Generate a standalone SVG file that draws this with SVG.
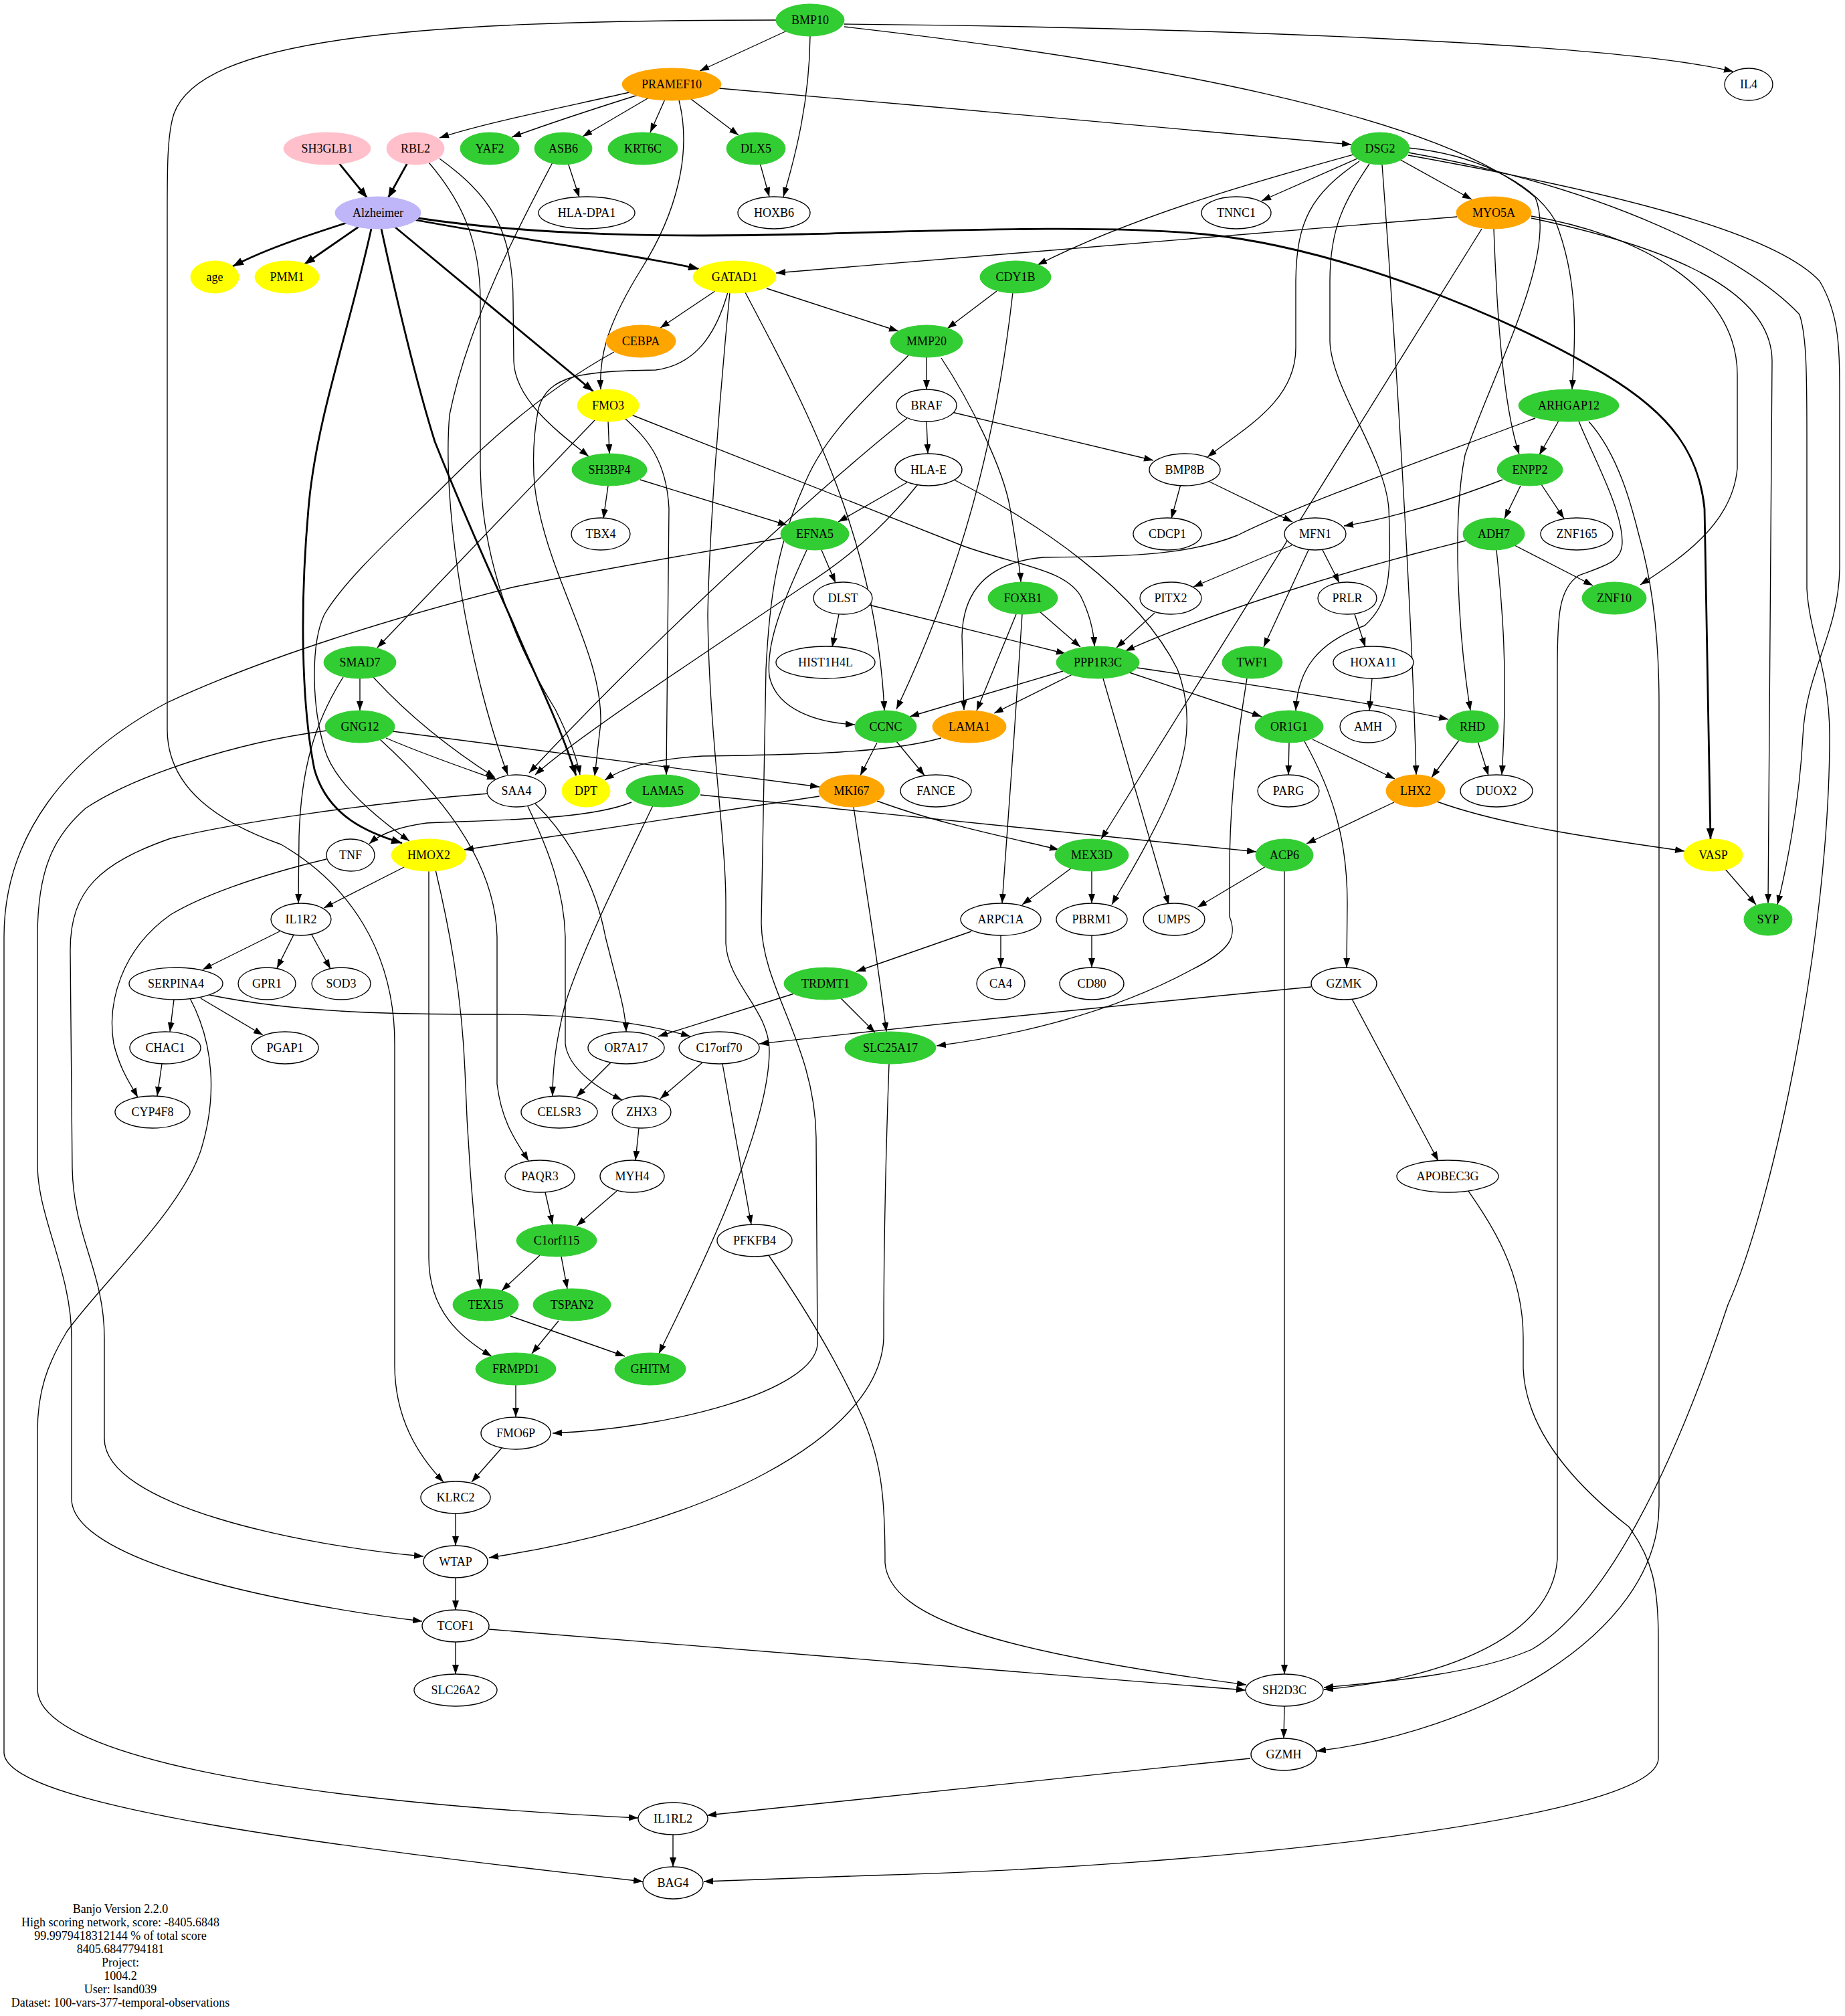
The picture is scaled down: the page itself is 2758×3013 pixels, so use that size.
<svg xmlns="http://www.w3.org/2000/svg" width="2758" height="3013" viewBox="0 0 2758 3013">
<style>
.e{fill:none;stroke:#000;stroke-width:1.35;marker-end:url(#a)}
.b{fill:none;stroke:#000;stroke-width:2.8;marker-end:url(#ab)}
.w{fill:#fff;stroke:#000;stroke-width:1.35}
.g{fill:#32cd32;stroke:#32cd32}
.o{fill:#ffa500;stroke:#ffa500}
.y{fill:#ffff00;stroke:#ffff00}
.p{fill:#ffc0cb;stroke:#ffc0cb}
.v{fill:#beb6f8;stroke:#beb6f8}
text{font-family:"Liberation Serif","Times New Roman",serif;font-size:18px;text-anchor:middle;fill:#000}
</style>
<defs>
<marker id="a" markerUnits="userSpaceOnUse" viewBox="0 0 14 10" refX="14" refY="5" markerWidth="14" markerHeight="10" orient="auto"><path d="M0,0L14,5L0,10z" fill="#000"/></marker>
<marker id="ab" markerUnits="userSpaceOnUse" viewBox="0 0 16 12" refX="16" refY="6" markerWidth="16" markerHeight="12" orient="auto"><path d="M0,0L16,6L0,12z" fill="#000"/></marker>
</defs>
<rect width="2758" height="3013" fill="#fff"/>
<g id="edges">
<path class="e" d="M1211,30 L1046,106"/>
<path class="e" d="M1262,36 C1700,40 2400,60 2591,107"/>
<path class="e" d="M1211,54 C1210,150 1190,230 1171,294"/>
<path class="e" d="M1262,40 C1700,90 2150,170 2295,295 C2330,380 2230,560 2190,680 C2170,780 2180,950 2198,1062"/>
<path class="e" d="M1160,30 C600,30 300,60 260,170 C250,200 250,250 250,320 L250,1090 C250,1180 330,1230 420,1262 C520,1320 590,1420 590,1560 L590,2040 C590,2120 625,2175 663,2215"/>
<path class="e" d="M941,138 C820,165 720,185 657,206"/>
<path class="e" d="M960,140 C880,165 820,185 765,205"/>
<path class="e" d="M1004,126 L871,204"/>
<path class="e" d="M1004,126 L972,198"/>
<path class="e" d="M1004,126 L1104,202"/>
<path class="e" d="M1075,132 C1400,160 1800,195 2020,216"/>
<path class="e" d="M1015,150 C1035,230 1010,320 960,400 C910,480 895,530 898,582"/>
<path class="b" d="M489,222 L549,296"/>
<path class="b" d="M621,222 L580,296"/>
<path class="e" d="M641,243 C690,300 718,360 718,450 L718,700 C720,850 780,980 830,1060 C850,1100 862,1130 867,1158"/>
<path class="e" d="M657,237 C730,290 767,340 767,450 L768,540 C770,600 840,650 880,682"/>
<path class="e" d="M842,222 L866,295"/>
<path class="e" d="M826,243 C780,330 700,480 672,620 C660,760 700,1000 759,1158"/>
<path class="e" d="M1130,222 L1150,294"/>
<path class="b" d="M565,318 C480,345 400,370 348,398"/>
<path class="b" d="M536,339 L455,395"/>
<path class="b" d="M565,318 C750,355 950,380 1045,402"/>
<path class="b" d="M590,339 L887,585"/>
<path class="b" d="M625,326 C800,352 1000,355 1200,350 S1650,335 1800,350 C2000,370 2250,470 2400,560 C2500,620 2540,680 2548,760 L2557,1254"/>
<path class="b" d="M555,342 C520,500 475,620 462,750 C448,900 450,1050 470,1150 C490,1220 550,1245 601,1260"/>
<path class="b" d="M570,342 C600,480 625,580 650,660 C690,760 730,850 765,927 C800,1010 840,1090 861,1159"/>
<path class="e" d="M2063,222 L1886,300"/>
<path class="e" d="M2063,222 L2200,298"/>
<path class="e" d="M2023,231 C1900,265 1700,320 1551,396"/>
<path class="e" d="M2032,241 C1960,290 1938,330 1937,420 L1937,520 C1937,600 1860,640 1805,683"/>
<path class="e" d="M2047,245 C2010,300 1988,340 1988,420 L1988,510 C1990,580 2070,680 2076,760 C2080,860 2078,900 2040,935 C1970,960 1940,1000 1937,1062"/>
<path class="e" d="M2066,246 C2085,500 2110,900 2117,1158"/>
<path class="e" d="M2105,221 C2200,230 2290,270 2325,330 C2360,420 2355,500 2350,582"/>
<path class="e" d="M2105,232 C2400,285 2650,345 2720,420 C2750,470 2750,520 2750,600 L2750,850 C2748,950 2700,1000 2695,1100 C2690,1200 2670,1300 2657,1352"/>
<path class="e" d="M2105,228 C2400,280 2610,385 2690,470 C2700,500 2701,550 2701,650 L2701,880 C2705,950 2735,1000 2735,1100 C2735,1400 2650,1800 2583,1950 C2500,2200 2400,2400 2290,2465 C2200,2505 2050,2515 1979,2522"/>
<path class="e" d="M2178,324 L1160,408"/>
<path class="e" d="M2233,342 C2237,450 2245,600 2271,679"/>
<path class="e" d="M2215,342 L1646,1254"/>
<path class="e" d="M2289,323 C2450,350 2597,430 2597,560 L2597,700 C2590,780 2520,830 2452,874"/>
<path class="e" d="M2289,326 C2450,360 2649,420 2649,540 L2643,1350"/>
<path class="e" d="M1069,435 L987,490"/>
<path class="e" d="M1146,431 L1343,495"/>
<path class="e" d="M1088,437 C1070,500 1040,545 980,553 C870,555 820,560 805,610 C795,660 795,720 805,760 C830,880 900,980 898,1080 L889,1160"/>
<path class="e" d="M1114,437 C1200,600 1310,800 1322,1062"/>
<path class="e" d="M1091,437 C1075,600 1060,800 1058,920 C1060,1100 1085,1250 1085,1350 L1085,1410 C1088,1470 1150,1510 1150,1570 C1150,1700 1020,1950 985,2023"/>
<path class="e" d="M1490,435 L1416,491"/>
<path class="e" d="M1514,437 C1490,650 1440,850 1340,1060"/>
<path class="e" d="M918,526 C820,580 740,650 680,710 C600,790 520,860 485,918 C465,960 465,1050 485,1119 C500,1170 560,1220 612,1257"/>
<path class="e" d="M1385,534 L1385,582"/>
<path class="e" d="M1407,535 C1450,600 1500,700 1510,760 C1520,820 1525,850 1526,870"/>
<path class="e" d="M1358,531 C1300,590 1230,650 1200,730 C1160,820 1150,900 1145,1000 L1138,1380 C1140,1480 1218,1560 1220,1700 L1222,2010 C1215,2080 1000,2135 826,2142"/>
<path class="e" d="M909,629 L911,678"/>
<path class="e" d="M890,627 L564,968"/>
<path class="e" d="M934,625 C960,650 996,680 1000,760 L996,1158"/>
<path class="e" d="M944,620 L1440,816 C1520,845 1590,850 1615,890 C1630,920 1635,945 1636,966"/>
<path class="e" d="M1385,630 L1387,678"/>
<path class="e" d="M1423,616 L1724,688"/>
<path class="e" d="M1356,625 C1260,700 1000,930 791,1155"/>
<path class="e" d="M1356,721 L1253,780"/>
<path class="e" d="M1372,724 C1320,790 1260,840 1200,877 L1000,1012 C900,1080 830,1130 800,1158"/>
<path class="e" d="M1426,717 C1550,780 1700,880 1760,1000 C1790,1080 1770,1150 1730,1230 C1700,1290 1680,1320 1662,1352"/>
<path class="e" d="M1771,702 L1751,775"/>
<path class="e" d="M1806,719 L1932,780"/>
<path class="e" d="M2330,629 L2301,680"/>
<path class="e" d="M2295,625 C2150,680 1950,750 1850,800 C1780,828 1700,832 1560,833 C1480,840 1440,880 1438,950 L1441,1061"/>
<path class="e" d="M2359,627 C2380,680 2425,760 2425,810 C2425,840 2400,845 2360,860 C2330,880 2328,920 2328,1000 L2328,2330 C2320,2450 2150,2510 1979,2525"/>
<path class="e" d="M2375,630 C2420,680 2440,760 2450,800 C2470,870 2480,950 2480,1050 L2480,2250 C2480,2450 2200,2590 1968,2617"/>
<path class="e" d="M909,726 L902,775"/>
<path class="e" d="M957,717 L1177,785"/>
<path class="e" d="M1228,822 L1249,871"/>
<path class="e" d="M1206,822 C1170,900 1145,960 1150,1010 C1160,1060 1220,1080 1278,1083"/>
<path class="e" d="M1168,804 C1050,826 900,850 765,878 C600,920 400,980 250,1050 C100,1130 6,1250 6,1400 L6,2620 C10,2700 500,2760 961,2812"/>
<path class="e" d="M1931,815 L1784,877"/>
<path class="e" d="M1977,822 L2002,871"/>
<path class="e" d="M1956,822 L1889,967"/>
<path class="e" d="M2246,717 C2160,750 2080,775 2009,786"/>
<path class="e" d="M2273,726 L2249,775"/>
<path class="e" d="M2304,724 L2338,775"/>
<path class="e" d="M2264,815 L2381,875"/>
<path class="e" d="M2191,808 C2000,855 1800,920 1682,973"/>
<path class="e" d="M2237,822 C2245,900 2255,1000 2245,1158"/>
<path class="e" d="M1254,918 L1244,967"/>
<path class="e" d="M1299,904 L1593,977"/>
<path class="e" d="M1554,914 L1615,967"/>
<path class="e" d="M1519,918 L1460,1062"/>
<path class="e" d="M1528,918 C1520,1050 1505,1250 1498,1350"/>
<path class="e" d="M1726,916 L1669,968"/>
<path class="e" d="M2025,918 L2041,967"/>
<path class="e" d="M538,1014 L538,1062"/>
<path class="e" d="M558,1012 C620,1080 690,1130 740,1162"/>
<path class="e" d="M513,1012 C470,1080 450,1150 447,1250 L446,1350"/>
<path class="e" d="M1589,1003 L1360,1071"/>
<path class="e" d="M1605,1007 L1486,1066"/>
<path class="e" d="M1688,1005 L1886,1071"/>
<path class="e" d="M1700,998 C1850,1020 2050,1050 2165,1075"/>
<path class="e" d="M1649,1014 L1747,1352"/>
<path class="e" d="M1864,1014 C1850,1100 1838,1200 1838,1300 L1838,1370 C1850,1400 1840,1420 1780,1450 C1650,1520 1500,1550 1400,1563"/>
<path class="e" d="M2051,1014 L2047,1062"/>
<path class="e" d="M577,1103 C640,1130 700,1150 742,1165"/>
<path class="e" d="M587,1093 L1225,1176"/>
<path class="e" d="M568,1105 C650,1180 740,1280 743,1400 L743,1620 C750,1680 775,1710 790,1735"/>
<path class="e" d="M488,1092 C350,1110 200,1160 128,1208 C80,1250 56,1300 56,1400 L56,1740 C56,1820 107,1900 107,2000 L107,2240 C107,2330 400,2395 631,2423"/>
<path class="e" d="M1311,1110 L1286,1159"/>
<path class="e" d="M1340,1108 L1382,1159"/>
<path class="e" d="M1407,1103 C1330,1125 1200,1128 1050,1130 C970,1135 930,1148 904,1166"/>
<path class="e" d="M1927,1110 L1926,1158"/>
<path class="e" d="M1962,1105 L2085,1164"/>
<path class="e" d="M1950,1108 C1990,1180 2014,1250 2014,1350 L2013,1446"/>
<path class="e" d="M2182,1105 L2140,1162"/>
<path class="e" d="M2209,1108 L2225,1159"/>
<path class="e" d="M730,1186 C550,1200 350,1230 255,1253 C150,1290 105,1330 105,1420 L108,1746 C110,1850 156,1900 156,2000 L156,2150 C156,2250 450,2310 633,2326"/>
<path class="e" d="M800,1201 C850,1250 890,1320 905,1400 C925,1480 935,1510 936,1542"/>
<path class="e" d="M788,1203 C820,1270 843,1330 845,1400 L845,1560 C850,1600 900,1630 930,1644"/>
<path class="e" d="M944,1199 C880,1225 750,1225 638,1230 C600,1235 570,1245 552,1261"/>
<path class="e" d="M976,1204 C930,1300 870,1420 845,1500 C830,1560 826,1600 826,1638"/>
<path class="e" d="M1047,1188 L1878,1273"/>
<path class="e" d="M1225,1190 L694,1270"/>
<path class="e" d="M1311,1197 C1400,1230 1500,1250 1583,1270"/>
<path class="e" d="M1276,1206 C1290,1300 1310,1420 1325,1542"/>
<path class="e" d="M2084,1199 L1953,1261"/>
<path class="e" d="M2148,1198 C2250,1235 2400,1255 2518,1272"/>
<path class="e" d="M488,1284 C380,1310 300,1340 255,1367 C180,1420 160,1500 170,1560 C180,1600 195,1620 206,1640"/>
<path class="e" d="M606,1295 L484,1357"/>
<path class="e" d="M651,1300 C670,1380 690,1480 695,1600 C700,1750 712,1850 718,1926"/>
<path class="e" d="M641,1302 L641,1880 C641,1960 690,2000 735,2027"/>
<path class="e" d="M1602,1297 L1528,1352"/>
<path class="e" d="M1632,1302 L1632,1350"/>
<path class="e" d="M1892,1295 L1790,1356"/>
<path class="e" d="M1920,1302 L1920,2502"/>
<path class="e" d="M2579,1299 L2625,1352"/>
<path class="e" d="M418,1392 L303,1449"/>
<path class="e" d="M439,1397 L414,1447"/>
<path class="e" d="M466,1397 L494,1448"/>
<path class="e" d="M1452,1392 L1280,1452"/>
<path class="e" d="M1496,1398 L1496,1446"/>
<path class="e" d="M1632,1398 L1632,1446"/>
<path class="e" d="M260,1494 L254,1542"/>
<path class="e" d="M300,1492 L393,1547"/>
<path class="e" d="M313,1487 C450,1515 600,1516 740,1516 C850,1516 950,1525 1032,1549"/>
<path class="e" d="M284,1492 C320,1560 325,1640 300,1720 C270,1810 150,1920 100,1990 C70,2040 56,2080 56,2140 L56,2526 C60,2620 400,2690 954,2717"/>
<path class="e" d="M1187,1485 L984,1549"/>
<path class="e" d="M1257,1492 L1308,1543"/>
<path class="e" d="M1960,1475 C1700,1500 1400,1530 1135,1560"/>
<path class="e" d="M2021,1493 L2150,1735"/>
<path class="e" d="M242,1590 L235,1638"/>
<path class="e" d="M913,1588 L862,1639"/>
<path class="e" d="M1050,1588 L987,1642"/>
<path class="e" d="M1080,1590 L1123,1830"/>
<path class="e" d="M1329,1590 C1325,1700 1321,1850 1321,2000 C1315,2150 1050,2280 731,2328"/>
<path class="e" d="M955,1686 L950,1734"/>
<path class="e" d="M922,1780 L862,1832"/>
<path class="e" d="M815,1782 L826,1830"/>
<path class="e" d="M2188,1770 C2230,1830 2277,1900 2277,2000 L2277,2045 C2280,2120 2330,2200 2435,2282 C2470,2330 2479,2370 2479,2450 L2479,2628 C2479,2720 1800,2790 1300,2803 L1052,2812"/>
<path class="e" d="M807,1876 L750,1929"/>
<path class="e" d="M839,1878 L848,1926"/>
<path class="e" d="M1149,1876 C1200,1950 1250,2030 1290,2120 C1320,2190 1323,2250 1323,2336 C1330,2420 1500,2470 1863,2518"/>
<path class="e" d="M763,1967 L934,2027"/>
<path class="e" d="M835,1974 L795,2023"/>
<path class="e" d="M771,2070 L771,2118"/>
<path class="e" d="M750,2164 L705,2215"/>
<path class="e" d="M681,2262 L681,2310"/>
<path class="e" d="M681,2358 L681,2406"/>
<path class="e" d="M681,2454 L681,2502"/>
<path class="e" d="M731,2435 L1862,2526"/>
<path class="e" d="M1920,2550 L1919,2598"/>
<path class="e" d="M1869,2628 L1057,2713"/>
<path class="e" d="M1006,2742 L1006,2790"/>
</g>
<g id="n-BMP10"><ellipse class="g" cx="1211" cy="30" rx="51" ry="24"/><text x="1211" y="36">BMP10</text></g>
<g id="n-IL4"><ellipse class="w" cx="2614" cy="126" rx="36" ry="24"/><text x="2614" y="132">IL4</text></g>
<g id="n-PRAMEF10"><ellipse class="o" cx="1004" cy="126" rx="74" ry="24"/><text x="1004" y="132">PRAMEF10</text></g>
<g id="n-SH3GLB1"><ellipse class="p" cx="489" cy="222" rx="65" ry="24"/><text x="489" y="228">SH3GLB1</text></g>
<g id="n-RBL2"><ellipse class="p" cx="621" cy="222" rx="43" ry="24"/><text x="621" y="228">RBL2</text></g>
<g id="n-YAF2"><ellipse class="g" cx="732" cy="222" rx="44" ry="24"/><text x="732" y="228">YAF2</text></g>
<g id="n-ASB6"><ellipse class="g" cx="842" cy="222" rx="43" ry="24"/><text x="842" y="228">ASB6</text></g>
<g id="n-KRT6C"><ellipse class="g" cx="961" cy="222" rx="52" ry="24"/><text x="961" y="228">KRT6C</text></g>
<g id="n-DLX5"><ellipse class="g" cx="1130" cy="222" rx="44" ry="24"/><text x="1130" y="228">DLX5</text></g>
<g id="n-DSG2"><ellipse class="g" cx="2063" cy="222" rx="44" ry="24"/><text x="2063" y="228">DSG2</text></g>
<g id="n-Alzheimer"><ellipse class="v" cx="565" cy="318" rx="64" ry="24"/><text x="565" y="324">Alzheimer</text></g>
<g id="n-HLA-DPA1"><ellipse class="w" cx="877" cy="318" rx="72" ry="24"/><text x="877" y="324">HLA-DPA1</text></g>
<g id="n-HOXB6"><ellipse class="w" cx="1157" cy="318" rx="54" ry="24"/><text x="1157" y="324">HOXB6</text></g>
<g id="n-TNNC1"><ellipse class="w" cx="1848" cy="318" rx="52" ry="24"/><text x="1848" y="324">TNNC1</text></g>
<g id="n-MYO5A"><ellipse class="o" cx="2233" cy="318" rx="56" ry="24"/><text x="2233" y="324">MYO5A</text></g>
<g id="n-age"><ellipse class="y" cx="321" cy="414" rx="36" ry="24"/><text x="321" y="420">age</text></g>
<g id="n-PMM1"><ellipse class="y" cx="429" cy="414" rx="48" ry="24"/><text x="429" y="420">PMM1</text></g>
<g id="n-GATAD1"><ellipse class="y" cx="1098" cy="414" rx="62" ry="24"/><text x="1098" y="420">GATAD1</text></g>
<g id="n-CDY1B"><ellipse class="g" cx="1518" cy="414" rx="53" ry="24"/><text x="1518" y="420">CDY1B</text></g>
<g id="n-CEBPA"><ellipse class="o" cx="958" cy="510" rx="52" ry="24"/><text x="958" y="516">CEBPA</text></g>
<g id="n-MMP20"><ellipse class="g" cx="1385" cy="510" rx="54" ry="24"/><text x="1385" y="516">MMP20</text></g>
<g id="n-FMO3"><ellipse class="y" cx="909" cy="606" rx="46" ry="24"/><text x="909" y="612">FMO3</text></g>
<g id="n-BRAF"><ellipse class="w" cx="1385" cy="606" rx="45" ry="24"/><text x="1385" y="612">BRAF</text></g>
<g id="n-ARHGAP12"><ellipse class="g" cx="2345" cy="606" rx="75" ry="24"/><text x="2345" y="612">ARHGAP12</text></g>
<g id="n-SH3BP4"><ellipse class="g" cx="911" cy="702" rx="56" ry="24"/><text x="911" y="708">SH3BP4</text></g>
<g id="n-HLA-E"><ellipse class="w" cx="1388" cy="702" rx="50" ry="24"/><text x="1388" y="708">HLA-E</text></g>
<g id="n-BMP8B"><ellipse class="w" cx="1771" cy="702" rx="53" ry="24"/><text x="1771" y="708">BMP8B</text></g>
<g id="n-ENPP2"><ellipse class="g" cx="2287" cy="702" rx="49" ry="24"/><text x="2287" y="708">ENPP2</text></g>
<g id="n-TBX4"><ellipse class="w" cx="898" cy="798" rx="44" ry="24"/><text x="898" y="804">TBX4</text></g>
<g id="n-EFNA5"><ellipse class="g" cx="1218" cy="798" rx="51" ry="24"/><text x="1218" y="804">EFNA5</text></g>
<g id="n-CDCP1"><ellipse class="w" cx="1745" cy="798" rx="51" ry="24"/><text x="1745" y="804">CDCP1</text></g>
<g id="n-MFN1"><ellipse class="w" cx="1966" cy="798" rx="46" ry="24"/><text x="1966" y="804">MFN1</text></g>
<g id="n-ADH7"><ellipse class="g" cx="2233" cy="798" rx="46" ry="24"/><text x="2233" y="804">ADH7</text></g>
<g id="n-ZNF165"><ellipse class="w" cx="2357" cy="798" rx="54" ry="24"/><text x="2357" y="804">ZNF165</text></g>
<g id="n-DLST"><ellipse class="w" cx="1260" cy="894" rx="44" ry="24"/><text x="1260" y="900">DLST</text></g>
<g id="n-FOXB1"><ellipse class="g" cx="1529" cy="894" rx="52" ry="24"/><text x="1529" y="900">FOXB1</text></g>
<g id="n-PITX2"><ellipse class="w" cx="1750" cy="894" rx="46" ry="24"/><text x="1750" y="900">PITX2</text></g>
<g id="n-PRLR"><ellipse class="w" cx="2014" cy="894" rx="44" ry="24"/><text x="2014" y="900">PRLR</text></g>
<g id="n-ZNF10"><ellipse class="g" cx="2413" cy="894" rx="48" ry="24"/><text x="2413" y="900">ZNF10</text></g>
<g id="n-SMAD7"><ellipse class="g" cx="538" cy="990" rx="54" ry="24"/><text x="538" y="996">SMAD7</text></g>
<g id="n-HIST1H4L"><ellipse class="w" cx="1234" cy="990" rx="74" ry="24"/><text x="1234" y="996">HIST1H4L</text></g>
<g id="n-PPP1R3C"><ellipse class="g" cx="1641" cy="990" rx="62" ry="24"/><text x="1641" y="996">PPP1R3C</text></g>
<g id="n-TWF1"><ellipse class="g" cx="1872" cy="990" rx="45" ry="24"/><text x="1872" y="996">TWF1</text></g>
<g id="n-HOXA11"><ellipse class="w" cx="2053" cy="990" rx="60" ry="24"/><text x="2053" y="996">HOXA11</text></g>
<g id="n-GNG12"><ellipse class="g" cx="538" cy="1086" rx="52" ry="24"/><text x="538" y="1092">GNG12</text></g>
<g id="n-CCNC"><ellipse class="g" cx="1324" cy="1086" rx="46" ry="24"/><text x="1324" y="1092">CCNC</text></g>
<g id="n-LAMA1"><ellipse class="o" cx="1449" cy="1086" rx="55" ry="24"/><text x="1449" y="1092">LAMA1</text></g>
<g id="n-OR1G1"><ellipse class="g" cx="1927" cy="1086" rx="51" ry="24"/><text x="1927" y="1092">OR1G1</text></g>
<g id="n-AMH"><ellipse class="w" cx="2045" cy="1086" rx="42" ry="24"/><text x="2045" y="1092">AMH</text></g>
<g id="n-RHD"><ellipse class="g" cx="2201" cy="1086" rx="39" ry="24"/><text x="2201" y="1092">RHD</text></g>
<g id="n-SAA4"><ellipse class="w" cx="772" cy="1182" rx="44" ry="24"/><text x="772" y="1188">SAA4</text></g>
<g id="n-DPT"><ellipse class="y" cx="876" cy="1182" rx="36" ry="24"/><text x="876" y="1188">DPT</text></g>
<g id="n-LAMA5"><ellipse class="g" cx="991" cy="1182" rx="55" ry="24"/><text x="991" y="1188">LAMA5</text></g>
<g id="n-MKI67"><ellipse class="o" cx="1273" cy="1182" rx="49" ry="24"/><text x="1273" y="1188">MKI67</text></g>
<g id="n-FANCE"><ellipse class="w" cx="1399" cy="1182" rx="53" ry="24"/><text x="1399" y="1188">FANCE</text></g>
<g id="n-PARG"><ellipse class="w" cx="1926" cy="1182" rx="46" ry="24"/><text x="1926" y="1188">PARG</text></g>
<g id="n-LHX2"><ellipse class="o" cx="2116" cy="1182" rx="44" ry="24"/><text x="2116" y="1188">LHX2</text></g>
<g id="n-DUOX2"><ellipse class="w" cx="2237" cy="1182" rx="54" ry="24"/><text x="2237" y="1188">DUOX2</text></g>
<g id="n-TNF"><ellipse class="w" cx="524" cy="1278" rx="36" ry="24"/><text x="524" y="1284">TNF</text></g>
<g id="n-HMOX2"><ellipse class="y" cx="641" cy="1278" rx="56" ry="24"/><text x="641" y="1284">HMOX2</text></g>
<g id="n-MEX3D"><ellipse class="g" cx="1632" cy="1278" rx="55" ry="24"/><text x="1632" y="1284">MEX3D</text></g>
<g id="n-ACP6"><ellipse class="g" cx="1920" cy="1278" rx="43" ry="24"/><text x="1920" y="1284">ACP6</text></g>
<g id="n-VASP"><ellipse class="y" cx="2561" cy="1278" rx="44" ry="24"/><text x="2561" y="1284">VASP</text></g>
<g id="n-IL1R2"><ellipse class="w" cx="450" cy="1374" rx="45" ry="24"/><text x="450" y="1380">IL1R2</text></g>
<g id="n-ARPC1A"><ellipse class="w" cx="1496" cy="1374" rx="60" ry="24"/><text x="1496" y="1380">ARPC1A</text></g>
<g id="n-PBRM1"><ellipse class="w" cx="1632" cy="1374" rx="53" ry="24"/><text x="1632" y="1380">PBRM1</text></g>
<g id="n-UMPS"><ellipse class="w" cx="1755" cy="1374" rx="46" ry="24"/><text x="1755" y="1380">UMPS</text></g>
<g id="n-SYP"><ellipse class="g" cx="2643" cy="1374" rx="36" ry="24"/><text x="2643" y="1380">SYP</text></g>
<g id="n-SERPINA4"><ellipse class="w" cx="263" cy="1470" rx="70" ry="24"/><text x="263" y="1476">SERPINA4</text></g>
<g id="n-GPR1"><ellipse class="w" cx="399" cy="1470" rx="43" ry="24"/><text x="399" y="1476">GPR1</text></g>
<g id="n-SOD3"><ellipse class="w" cx="510" cy="1470" rx="44" ry="24"/><text x="510" y="1476">SOD3</text></g>
<g id="n-TRDMT1"><ellipse class="g" cx="1234" cy="1470" rx="62" ry="24"/><text x="1234" y="1476">TRDMT1</text></g>
<g id="n-CA4"><ellipse class="w" cx="1496" cy="1470" rx="36" ry="24"/><text x="1496" y="1476">CA4</text></g>
<g id="n-CD80"><ellipse class="w" cx="1632" cy="1470" rx="48" ry="24"/><text x="1632" y="1476">CD80</text></g>
<g id="n-GZMK"><ellipse class="w" cx="2009" cy="1470" rx="49" ry="24"/><text x="2009" y="1476">GZMK</text></g>
<g id="n-CHAC1"><ellipse class="w" cx="247" cy="1566" rx="53" ry="24"/><text x="247" y="1572">CHAC1</text></g>
<g id="n-PGAP1"><ellipse class="w" cx="426" cy="1566" rx="50" ry="24"/><text x="426" y="1572">PGAP1</text></g>
<g id="n-OR7A17"><ellipse class="w" cx="936" cy="1566" rx="57" ry="24"/><text x="936" y="1572">OR7A17</text></g>
<g id="n-C17orf70"><ellipse class="w" cx="1075" cy="1566" rx="60" ry="24"/><text x="1075" y="1572">C17orf70</text></g>
<g id="n-SLC25A17"><ellipse class="g" cx="1331" cy="1566" rx="68" ry="24"/><text x="1331" y="1572">SLC25A17</text></g>
<g id="n-CYP4F8"><ellipse class="w" cx="228" cy="1662" rx="56" ry="24"/><text x="228" y="1668">CYP4F8</text></g>
<g id="n-CELSR3"><ellipse class="w" cx="836" cy="1662" rx="57" ry="24"/><text x="836" y="1668">CELSR3</text></g>
<g id="n-ZHX3"><ellipse class="w" cx="959" cy="1662" rx="44" ry="24"/><text x="959" y="1668">ZHX3</text></g>
<g id="n-PAQR3"><ellipse class="w" cx="807" cy="1758" rx="52" ry="24"/><text x="807" y="1764">PAQR3</text></g>
<g id="n-MYH4"><ellipse class="w" cx="945" cy="1758" rx="48" ry="24"/><text x="945" y="1764">MYH4</text></g>
<g id="n-APOBEC3G"><ellipse class="w" cx="2164" cy="1758" rx="76" ry="24"/><text x="2164" y="1764">APOBEC3G</text></g>
<g id="n-C1orf115"><ellipse class="g" cx="832" cy="1854" rx="60" ry="24"/><text x="832" y="1860">C1orf115</text></g>
<g id="n-PFKFB4"><ellipse class="w" cx="1128" cy="1854" rx="56" ry="24"/><text x="1128" y="1860">PFKFB4</text></g>
<g id="n-TEX15"><ellipse class="g" cx="726" cy="1950" rx="49" ry="24"/><text x="726" y="1956">TEX15</text></g>
<g id="n-TSPAN2"><ellipse class="g" cx="855" cy="1950" rx="58" ry="24"/><text x="855" y="1956">TSPAN2</text></g>
<g id="n-FRMPD1"><ellipse class="g" cx="771" cy="2046" rx="60" ry="24"/><text x="771" y="2052">FRMPD1</text></g>
<g id="n-GHITM"><ellipse class="g" cx="972" cy="2046" rx="53" ry="24"/><text x="972" y="2052">GHITM</text></g>
<g id="n-FMO6P"><ellipse class="w" cx="771" cy="2142" rx="52" ry="24"/><text x="771" y="2148">FMO6P</text></g>
<g id="n-KLRC2"><ellipse class="w" cx="681" cy="2238" rx="52" ry="24"/><text x="681" y="2244">KLRC2</text></g>
<g id="n-WTAP"><ellipse class="w" cx="681" cy="2334" rx="48" ry="24"/><text x="681" y="2340">WTAP</text></g>
<g id="n-TCOF1"><ellipse class="w" cx="681" cy="2430" rx="50" ry="24"/><text x="681" y="2436">TCOF1</text></g>
<g id="n-SLC26A2"><ellipse class="w" cx="681" cy="2526" rx="62" ry="24"/><text x="681" y="2532">SLC26A2</text></g>
<g id="n-SH2D3C"><ellipse class="w" cx="1920" cy="2526" rx="58" ry="24"/><text x="1920" y="2532">SH2D3C</text></g>
<g id="n-GZMH"><ellipse class="w" cx="1919" cy="2622" rx="49" ry="24"/><text x="1919" y="2628">GZMH</text></g>
<g id="n-IL1RL2"><ellipse class="w" cx="1006" cy="2718" rx="52" ry="24"/><text x="1006" y="2724">IL1RL2</text></g>
<g id="n-BAG4"><ellipse class="w" cx="1006" cy="2814" rx="45" ry="24"/><text x="1006" y="2820">BAG4</text></g>
<g id="footer">
<text x="180" y="2859">Banjo Version 2.2.0</text>
<text x="180" y="2879">High scoring network, score: -8405.6848</text>
<text x="180" y="2899">99.9979418312144 % of total score</text>
<text x="180" y="2919">8405.6847794181</text>
<text x="180" y="2939">Project:</text>
<text x="180" y="2959">1004.2</text>
<text x="180" y="2979">User: lsand039</text>
<text x="180" y="2999">Dataset: 100-vars-377-temporal-observations</text>
</g>
</svg>
